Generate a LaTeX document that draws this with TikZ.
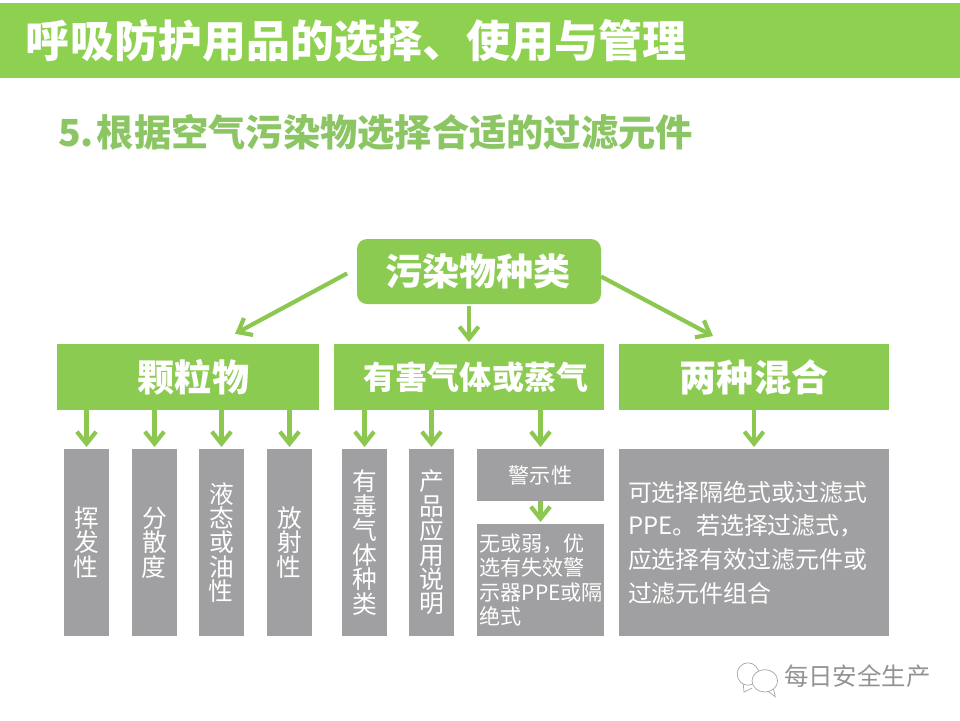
\documentclass[tikz,border=0pt]{standalone}
\usepackage{fontspec}
\setmainfont{Noto Sans CJK SC}
\usetikzlibrary{arrows.meta, positioning}
\definecolor{myheadgreen}{RGB}{142, 208, 80}
\definecolor{myboxgreen}{RGB}{140, 203, 82}
\definecolor{mysubgreen}{RGB}{140, 198, 100}
\definecolor{myarrowgreen}{RGB}{140, 200, 80}
\definecolor{mygray}{RGB}{160, 159, 161}

\begin{document}
\begin{tikzpicture}[
            outer sep=0pt,
            greenbox/.style={
                rectangle,
                fill=myboxgreen,
                text=white,
                inner sep=0pt,
                align=center,
                font=\bfseries\fontsize{26.4}{30}\selectfont,
                minimum height=1.65cm
            },
            graybox/.style={
                rectangle,
                fill=mygray,
                text=white,
                inner sep=0pt,
                minimum width=1.125cm,
                minimum height=4.675cm,
                align=center,
                font=\fontsize{17.6}{17.4}\selectfont
            },
            arrow/.style={
                -{Straight Barb[length=0.3cm,width=0.48cm]},
                draw=myarrowgreen,
                line width=0.105cm
            }
        ]
            \useasboundingbox (0,0) rectangle (24,-18);

            % Titles
            \node[fill=myheadgreen, text=white, anchor=north west, inner sep=0pt, inner xsep=0.65cm,
                text width=22.7cm, align=left, minimum height=1.875cm,
                font=\bfseries\fontsize{31.3}{36}\selectfont] (header) at (0,-0.075) {呼吸防护用品的选择、使用与管理};
            \node[text=mysubgreen, anchor=west, inner sep=0pt,
                font=\bfseries\fontsize{26.5}{30}\selectfont] (subtitle) at (1.45,-3.3) {5.\hspace{0.08cm}根据空气污染物选择合适的过滤元件};

            % Nodes
            \node[greenbox, anchor=north west, rounded corners=0.25cm, minimum width=6.1cm, minimum height=1.625cm] (pollutant) at (8.925,-5.975) {污染物种类\hspace*{0.05cm}};

            \node[greenbox, anchor=north west, minimum width=6.55cm] (particle) at (1.425,-8.6) {\hspace*{0.275cm}颗粒物};
            \node[greenbox, right=0.375cm of particle, minimum width=6.75cm,
                font=\bfseries\fontsize{22.8}{28}\selectfont] (gas) {\hspace*{0.35cm}有害气体或蒸气};
            \node[greenbox, right=0.375cm of gas, minimum width=6.75cm] (mixed) {两种混合};

            \node[graybox, anchor=north west] (volatile) at (1.6,-11.225) {挥\\发\\性\hspace*{0.05cm}};
            \node[graybox, right=0.575cm of volatile] (dispersion) {分\\散\\度\hspace*{0.05cm}};
            \node[graybox, right=0.55cm of dispersion] (liquid) {液\\态\\或\\油\\性\hspace*{0.05cm}};
            \node[graybox, right=0.575cm of liquid] (radioactive) {放\\射\\性\hspace*{0.05cm}};
            \node[graybox, right=0.75cm of radioactive] (toxic) {有\\毒\\气\\体\\种\\类};
            \node[graybox, right=0.55cm of toxic] (usage) {产\\品\\应\\用\\说\\明};
            \node[graybox, right=0.575cm of usage.north east, anchor=north west, minimum width=3.175cm, minimum height=1.3cm,
                font=\fontsize{15}{18}\selectfont] (warning) {警示性};
            \node[graybox, below=0.575cm of warning, minimum width=3.175cm, minimum height=2.8cm, text width=3.05cm, align=left,
                font=\fontsize{15}{17.4}\selectfont] (weak) {无或弱，优\\选有失效警\\示器PPE或隔\\绝式};
            \node[graybox, below=0.975cm of mixed, minimum width=6.75cm, text width=6.3cm, align=left,
                font=\fontsize{17}{24}\selectfont] (advice) {可选择隔绝式或过滤式\\PPE。若选择过滤式，\\应选择有效过滤元件或\\过滤元件组合};

            % Watermark
            \node[text=gray!85, anchor=west, inner sep=0pt, font=\fontsize{17.4}{20}\selectfont] (account) at (19.6,-16.9) {每日安全生产};
            \draw[gray!70, line width=0.5pt] (18.7,-16.85) ellipse (0.27cm and 0.28cm);
            \draw[gray!70, line width=0.5pt, fill=white] (19.12,-17.02) ellipse (0.32cm and 0.28cm);
            \draw[gray!70, line width=0.5pt] (18.58,-17.1) -- (18.6,-17.3) -- (18.8,-17.2);
            \draw[gray!70, line width=0.5pt] (19.2,-17.28) -- (19.38,-17.42) -- (19.34,-17.22);

            % Arrows
            \draw[arrow, shorten <=0.28cm, shorten >=0.54cm] ([yshift=0.085cm]pollutant.west) -- ([xshift=0.7cm]particle.north);
            \draw[arrow, shorten <=0.05cm, shorten >=0.05cm] (pollutant.south -| gas.north) -- (gas.north);
            \draw[arrow, shorten >=0.425cm] ([yshift=-0.125cm]pollutant.east) -- ([xshift=-0.65cm]mixed.north);
            \foreach \from/\to in {particle/volatile, particle/dispersion, particle/liquid, particle/radioactive,
                gas/toxic, gas/usage, gas/warning, mixed/advice} {
                \draw[arrow, shorten >=0.05cm] (\from.south -| \to.north) -- (\to.north);
            }
            \draw[arrow, shorten >=0.05cm] (warning) -- (weak);
        \end{tikzpicture}
\end{document}
